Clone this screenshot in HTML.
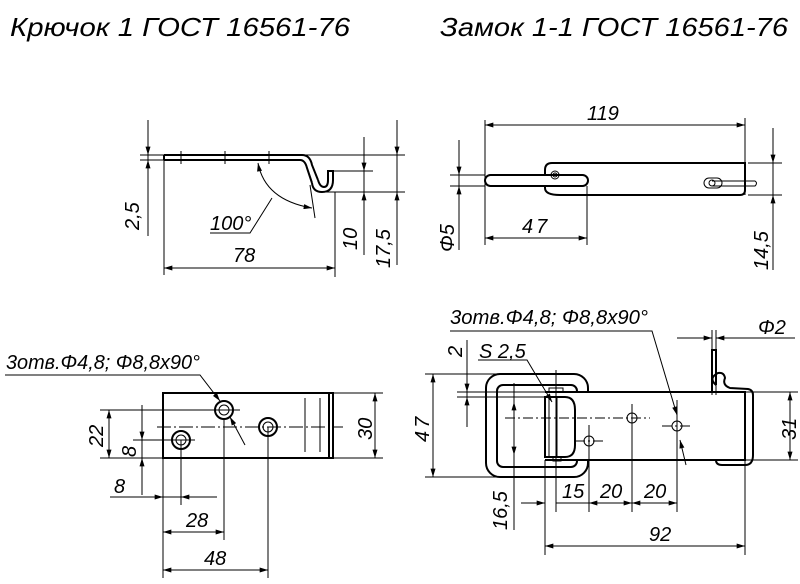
<!DOCTYPE html>
<html><head><meta charset="utf-8"><style>
html,body{margin:0;padding:0;background:#fff}
svg{display:block}
text{font-family:"Liberation Sans","DejaVu Sans",sans-serif;font-style:italic;fill:#000}
</style></head><body>
<svg width="800" height="584" viewBox="0 0 800 584" xmlns="http://www.w3.org/2000/svg">
<defs>
<marker id="a" viewBox="0 0 10 6" refX="10" refY="3" markerWidth="14" markerHeight="5" orient="auto-start-reverse" markerUnits="userSpaceOnUse"><path d="M0,0 L10,3 L0,6 z" fill="#000"/></marker>
</defs>
<g font-size="26">
<text x="10" y="36" textLength="340" lengthAdjust="spacingAndGlyphs">Крючок 1 ГОСТ 16561-76</text>
<text x="440" y="36" textLength="348" lengthAdjust="spacingAndGlyphs">Замок 1-1 ГОСТ 16561-76</text>
</g>
<g stroke="#000" fill="none" stroke-width="1">
<path d="M164,155 H302 Q310,155 312,165 L318,180" stroke-width="2"/>
<path d="M164,160 H300 Q305,160 307,168 L312,183" stroke-width="2"/>
<path d="M164,155 V160" stroke-width="2"/>
<path d="M318,180 Q320,187 324,187 Q328,187 328,180 V171 H333 V180 Q333,192 322,192 Q313,192 312,183" stroke-width="2"/>
<path d="M181,151 V164 M225,151 V164 M269,151 V164"/>
<path d="M140,155 H405 M140,160 H165 M333,171 H373 M320,192 H405"/>
<path d="M148,120 V236"/>
<path d="M148,130 V155" marker-end="url(#a)"/>
<path d="M148,185 V160" marker-end="url(#a)"/>
<path d="M364,137 V255"/>
<path d="M364,150 V171" marker-end="url(#a)"/>
<path d="M364,215 V192" marker-end="url(#a)"/>
<path d="M397,120 V265"/>
<path d="M397,135 V155" marker-end="url(#a)"/>
<path d="M397,215 V192" marker-end="url(#a)"/>
<path d="M164,160 V275 M335,192 V277"/>
<path d="M164,268 H335" marker-start="url(#a)" marker-end="url(#a)"/>
<path d="M258,163 Q265,200 312,208" marker-start="url(#a)" marker-end="url(#a)"/>
<path d="M310,185 L315,218"/>
<path d="M272,198 L250,233 H210"/>
<path d="M552,163 H745 V190 Q745,195 740,195 H560 Q545,195 545,188 V170 Q545,163 552,163 z" stroke-width="2"/>
<rect x="485" y="175" width="103" height="11" rx="5.5" fill="#fff" stroke-width="2"/>
<circle cx="555" cy="175" r="4"/><circle cx="555" cy="175" r="2"/>
<rect x="704" y="178" width="18" height="10" rx="5"/>
<circle cx="712" cy="183" r="3"/>
<path d="M712,181 H755 Q758,183 755,186 H712"/>
<path d="M485,120 V245 M745,118 V195 M587,186 V245"/>
<path d="M485,125 H745" marker-start="url(#a)" marker-end="url(#a)"/>
<path d="M485,238 H587" marker-start="url(#a)" marker-end="url(#a)"/>
<path d="M450,175 H485 M450,186 H485"/>
<path d="M459,140 V250"/>
<path d="M459,152 V175" marker-end="url(#a)"/>
<path d="M459,210 V186" marker-end="url(#a)"/>
<path d="M748,163 H782 M748,195 H782"/>
<path d="M773,128 V270"/>
<path d="M773,140 V163" marker-end="url(#a)"/>
<path d="M773,220 V195" marker-end="url(#a)"/>
<rect x="163" y="393" width="170" height="65" stroke-width="2"/>
<path d="M329,393 V458" stroke-width="2"/>
<path d="M305,398 V452 M320,398 V452"/>
<circle cx="224" cy="410" r="9" stroke-width="2"/><circle cx="224" cy="410" r="5"/>
<circle cx="268" cy="427" r="9" stroke-width="2"/><circle cx="268" cy="427" r="5"/>
<circle cx="181" cy="440" r="9" stroke-width="2"/><circle cx="181" cy="440" r="5"/>
<path d="M157,427 H343" stroke-dasharray="14,3,2,3"/>
<path d="M100,410 H240 M133,440 H195 M100,458 H163 M333,393 H383 M333,458 H383"/>
<path d="M109,410 V458" marker-start="url(#a)" marker-end="url(#a)"/>
<path d="M142,405 V495"/>
<path d="M142,420 V440" marker-end="url(#a)"/>
<path d="M142,480 V458" marker-end="url(#a)"/>
<path d="M110,497 H217"/>
<path d="M140,497 H163" marker-end="url(#a)"/>
<path d="M200,497 H181" marker-end="url(#a)"/>
<path d="M181,440 V505 M224,420 V540 M163,458 V578 M268,427 V578"/>
<path d="M163,532 H224" marker-start="url(#a)" marker-end="url(#a)"/>
<path d="M163,570 H268" marker-start="url(#a)" marker-end="url(#a)"/>
<path d="M375,393 V458" marker-start="url(#a)" marker-end="url(#a)"/>
<path d="M5,375 H200 L220,401" marker-end="url(#a)"/>
<path d="M245,445 L230,417" marker-end="url(#a)"/>
<rect x="486" y="374" width="102" height="103" rx="14" stroke-width="2"/>
<rect x="497" y="385" width="80" height="82" rx="6" stroke-width="2"/>
<path d="M545,392 H745 V460 H545" stroke-width="2" fill="#fff"/>
<path d="M545,397 H565 Q575,397 575,410 V445 Q575,457 565,457 H545 z" stroke-width="2" fill="#fff"/>
<path d="M549,397 V457 M557,397 V457" stroke-width="1"/>
<path d="M549,392 V388 H563 V392 M553,457 V461 H561 V457"/>
<path d="M712,392 V350 H716 V385 M716,385 Q708,378 718,373 Q724,372 725,378 Q722,385 730,388 L748,389 Q753,390 753,395 V455 Q753,465 745,465 H722 Q716,465 716,460" stroke-width="2"/>
<circle cx="632" cy="418" r="5"/><circle cx="589" cy="441" r="5"/><circle cx="677" cy="426" r="5"/>
<path d="M505,418 H650 M575,441 H605 M662,426 H693 M677,410 V440" stroke-dasharray="10,3,2,3"/>
<path d="M450,331 H652 L677,415" marker-end="url(#a)"/>
<path d="M686,465 L680,440" marker-end="url(#a)"/>
<path d="M478,360 H527 L552,402" marker-end="url(#a)"/>
<path d="M712,330 V395 M716,330 V395"/>
<path d="M677,338 H712" marker-end="url(#a)"/>
<path d="M795,338 H716" marker-end="url(#a)"/>
<path d="M457,392 H545 M457,397 H545"/>
<path d="M467,340 V427"/>
<path d="M467,365 V392" marker-end="url(#a)"/>
<path d="M467,420 V397" marker-end="url(#a)"/>
<path d="M425,374 H500 M425,477 H500"/>
<path d="M433,374 V477" marker-start="url(#a)" marker-end="url(#a)"/>
<path d="M745,392 H798 M745,460 H798"/>
<path d="M790,392 V460" marker-start="url(#a)" marker-end="url(#a)"/>
<path d="M514,383 V530"/>
<path d="M514,420 V402" marker-end="url(#a)"/>
<path d="M514,435 V455" marker-end="url(#a)"/>
<path d="M545,460 V555 M556,370 V512 M589,425 V512 M632,404 V512 M677,400 V512 M745,460 V555"/>
<path d="M521,503 H545" marker-end="url(#a)"/>
<path d="M556,503 H589 M589,503 H632" marker-end="url(#a)"/>
<path d="M589,503 H632" marker-start="url(#a)"/>
<path d="M632,503 H677" marker-start="url(#a)" marker-end="url(#a)"/>
<path d="M545,546 H745" marker-start="url(#a)" marker-end="url(#a)"/>
</g>
<g font-size="20">
<text x="139" y="230" transform="rotate(-90 139 230)">2,5</text>
<text x="210" y="230">100°</text>
<text x="233" y="262">78</text>
<text x="357" y="250" transform="rotate(-90 357 250)">10</text>
<text x="390" y="268" transform="rotate(-90 390 268)">17,5</text>
<text x="587" y="120">119</text>
<text x="522" y="233" letter-spacing="3">47</text>
<text x="454" y="252" transform="rotate(-90 454 252)">Φ5</text>
<text x="768" y="270" transform="rotate(-90 768 270)">14,5</text>
<text x="6" y="369" textLength="194" lengthAdjust="spacingAndGlyphs">3отв.Φ4,8; Φ8,8x90°</text>
<text x="103" y="447" transform="rotate(-90 103 447)">22</text>
<text x="136" y="457" transform="rotate(-90 136 457)">8</text>
<text x="114" y="493">8</text>
<text x="186" y="527">28</text>
<text x="204" y="565">48</text>
<text x="372" y="440" transform="rotate(-90 372 440)">30</text>
<text x="450" y="324" textLength="198" lengthAdjust="spacingAndGlyphs">3отв.Φ4,8; Φ8,8x90°</text>
<text x="758" y="334">Φ2</text>
<text x="479" y="358">S 2,5</text>
<text x="462" y="357" transform="rotate(-90 462 357)">2</text>
<text x="429" y="442" transform="rotate(-90 429 442)" letter-spacing="3">47</text>
<text x="507" y="530" transform="rotate(-90 507 530)">16,5</text>
<text x="562" y="498">15</text>
<text x="600" y="498">20</text>
<text x="644" y="498">20</text>
<text x="649" y="541">92</text>
<text x="796" y="440" transform="rotate(-90 796 440)">31</text>
</g>
</svg>
</body></html>
